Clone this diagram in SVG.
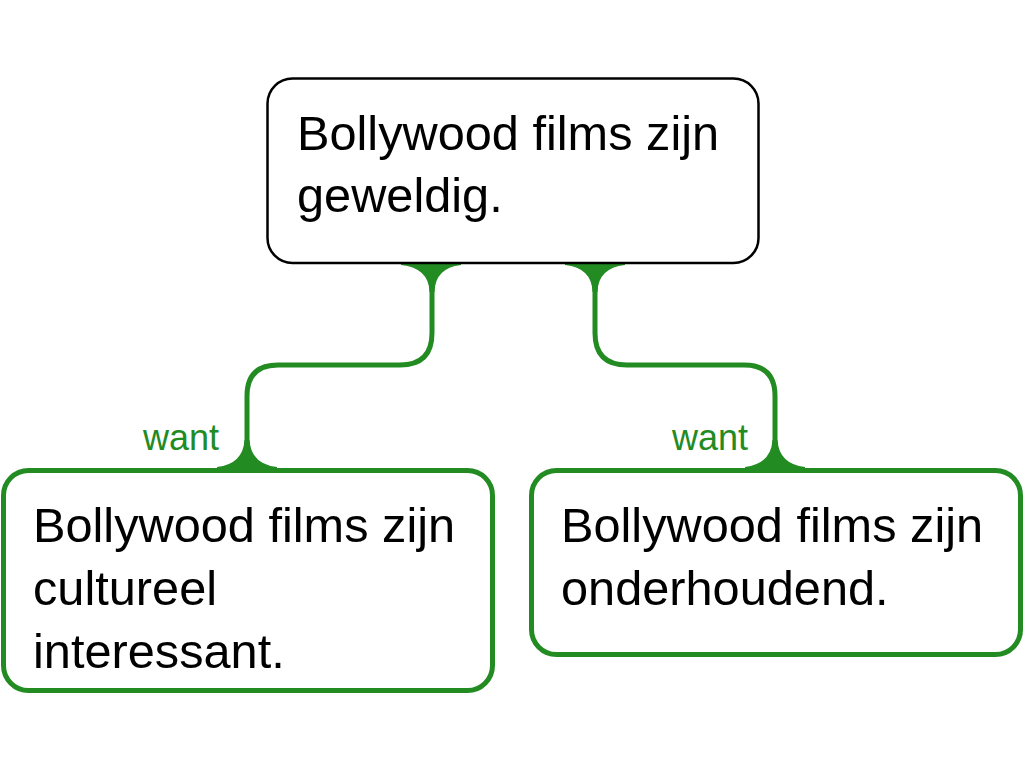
<svg xmlns="http://www.w3.org/2000/svg" width="1024" height="768" viewBox="0 0 1024 768">
<style>
.t{font-family:"Liberation Sans",Arial,sans-serif;font-size:48.7px;fill:#000}
.lbl{font-family:"Liberation Sans",Arial,sans-serif;font-size:36px;fill:#228b22;text-anchor:end}
.edge{fill:none;stroke:#228b22;stroke-width:5}
.flare{fill:#228b22}
</style>
<rect width="1024" height="768" fill="#fff"/>
<g id="connectors">
<path class="edge" d="M432,263 V333 Q432,365 400,365 H278 Q247,365 247,396 V470"/>
<path class="flare" d="M401,260 H461 V265 Q435,268 434.5,292 H429.5 Q429,268 401,265 Z"/>
<path class="flare" d="M217,472 H277 V467 Q251,464 249.5,440 H244.5 Q243,464 217,467 Z"/>
<path class="edge" d="M595,263 V333 Q595,365 627,365 H744 Q775,365 775,396 V470"/>
<path class="flare" d="M565,260 H625 V265 Q598,268 597.5,292 H592.5 Q592,268 565,265 Z"/>
<path class="flare" d="M745,472 H805 V467 Q779,464 777.5,440 H772.5 Q771,464 745,467 Z"/>
<text class="lbl" x="219" y="450">want</text>
<text class="lbl" x="748" y="450">want</text>
</g>
<g id="node-root">
<rect x="267.5" y="78.5" width="491" height="184.5" rx="25" fill="#fff" stroke="#000" stroke-width="2.5"/>
<text class="t" x="297" y="150">Bollywood films zijn</text>
<text class="t" x="297" y="212">geweldig.</text>
</g>
<g id="node-left">
<rect x="3.5" y="470.5" width="489" height="220" rx="25" fill="#fff" stroke="#228b22" stroke-width="5"/>
<text class="t" x="33" y="542">Bollywood films zijn</text>
<text class="t" x="33" y="605">cultureel</text>
<text class="t" x="33" y="668">interessant.</text>
</g>
<g id="node-right">
<rect x="531.5" y="470.5" width="489" height="184" rx="25" fill="#fff" stroke="#228b22" stroke-width="5"/>
<text class="t" x="561" y="542">Bollywood films zijn</text>
<text class="t" x="561" y="605">onderhoudend.</text>
</g>
</svg>
